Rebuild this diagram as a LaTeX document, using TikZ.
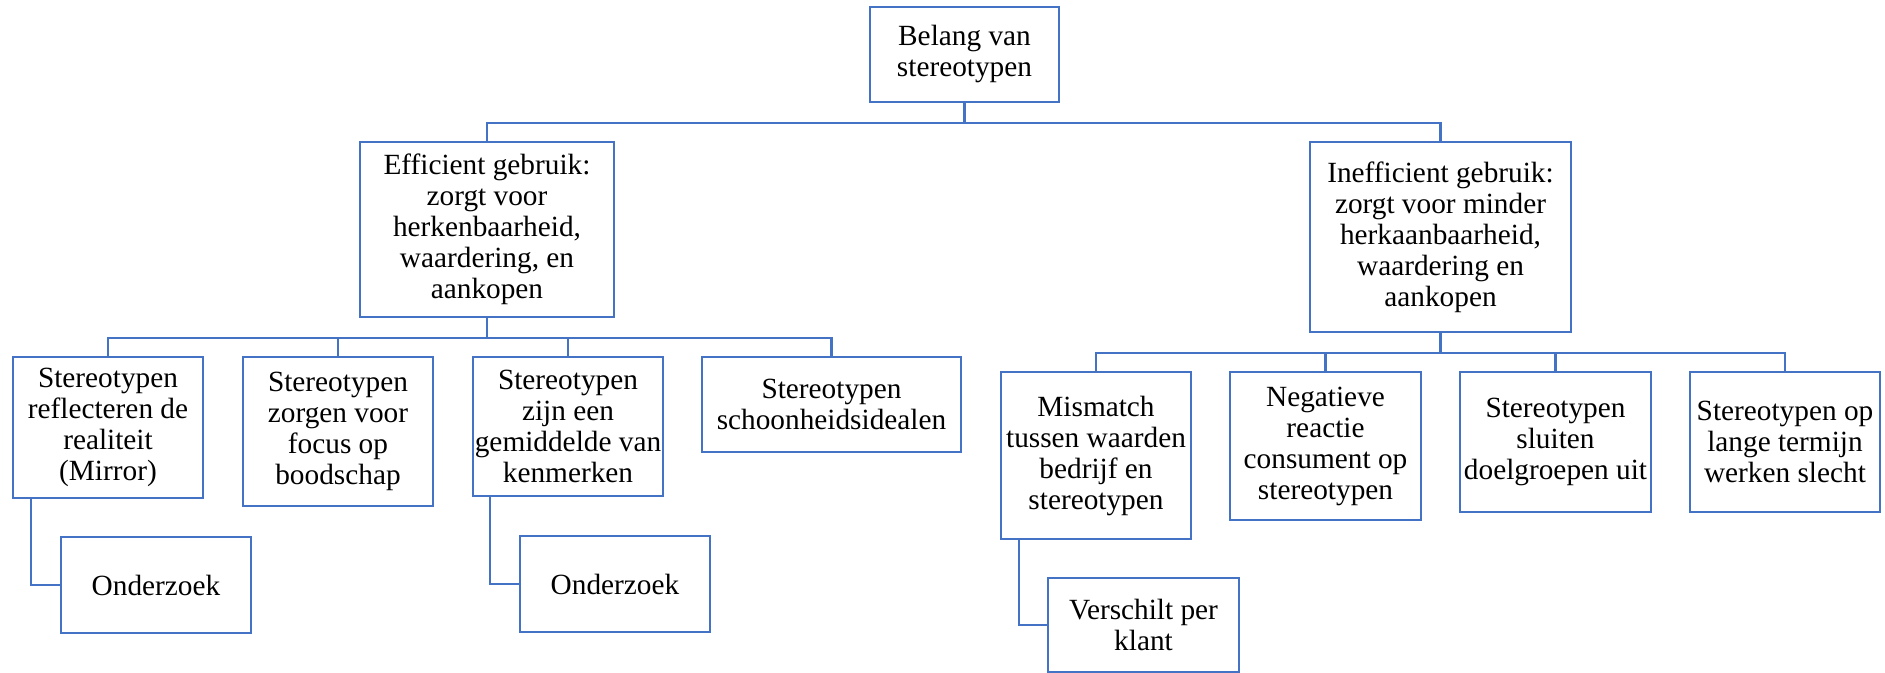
\documentclass[tikz,border=0pt]{standalone}
\usepackage{fontspec}
\setmainfont{Liberation Serif}
\definecolor{boxblue}{HTML}{4472C4}
\begin{document}
\begin{tikzpicture}[x=0.5pt,y=-0.5pt,
  box/.style={draw=boxblue,line width=1.3pt,fill=white,align=center,inner sep=0pt,
    font=\fontsize{14.65}{15.5}\selectfont},
  sz/.style 2 args={minimum width=#1*0.5pt,minimum height=#2*0.5pt},
  conn/.style={draw=boxblue,line width=1.2pt}]
\useasboundingbox (0,0) rectangle (1885,673);
% top
\node[box,sz={189}{95}] (belang) at (964.5,54.5) {Belang van\\stereotypen};
\node[box,sz={254}{175}] (eff) at (487,229.5) {Efficient gebruik:\\zorgt voor\\herkenbaarheid,\\waardering, en\\aankopen};
\node[box,sz={261}{190}] (ineff) at (1440.5,237) {Inefficient gebruik:\\zorgt voor minder\\herkaanbaarheid,\\waardering en\\aankopen};
% left children
\node[box,sz={190}{141}] (c1) at (108,427.5) {Stereotypen\\reflecteren de\\realiteit\\(Mirror)};
\node[box,sz={190}{149}] (c2) at (338,431.5) {Stereotypen\\zorgen voor\\focus op\\boodschap};
\node[box,sz={190}{139}] (c3) at (568,426.5) {Stereotypen\\zijn een\\gemiddelde van\\kenmerken};
\node[box,sz={259}{95}] (c4) at (831.5,404.5) {Stereotypen\\schoonheidsidealen};
\node[box,sz={190}{96}] (o1) at (156,585) {Onderzoek};
\node[box,sz={190}{96}] (o2) at (615,584) {Onderzoek};
% right children
\node[box,sz={190}{167}] (r1) at (1096,455.5) {Mismatch\\tussen waarden\\bedrijf en\\stereotypen};
\node[box,sz={191}{148}] (r2) at (1325.5,446) {Negatieve\\reactie\\consument op\\stereotypen};
\node[box,sz={191}{140}] (r3) at (1555.5,442) {Stereotypen\\sluiten\\doelgroepen uit};
\node[box,sz={190}{140}] (r4) at (1785,442) {Stereotypen op\\lange termijn\\werken slecht};
\node[box,sz={191}{94}] (v) at (1143.5,625) {Verschilt per\\klant};
% connectors
\draw[conn] (belang.south) -- ++(0,20) -| (eff.north);
\draw[conn] (belang.south) -- ++(0,20) -| (ineff.north);
\foreach \c in {c1,c2,c3,c4}{\draw[conn] (eff.south) -- ++(0,20) -| (\c.north);}
\foreach \c in {r1,r2,r3,r4}{\draw[conn] (ineff.south) -- ++(0,20) -| (\c.north);}
\draw[conn] ([xshift=19*0.5pt]c1.south west) |- (o1.west);
\draw[conn] ([xshift=18*0.5pt]c3.south west) |- (o2.west);
\draw[conn] ([xshift=19*0.5pt]r1.south west) |- (v.west);
\end{tikzpicture}
\end{document}
